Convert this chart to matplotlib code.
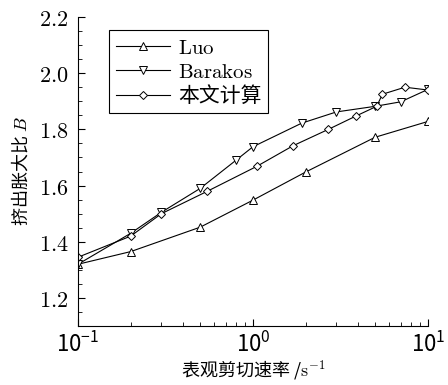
import matplotlib
matplotlib.use('Agg')
import matplotlib.pyplot as plt
from matplotlib.ticker import FuncFormatter, MultipleLocator, LogLocator

plt.rcParams['font.family'] = ['Noto Sans CJK SC', 'DejaVu Sans']
plt.rcParams['mathtext.fontset'] = 'cm'

# 数据
luo_x = [0.1, 0.2, 0.5, 1.0, 2.0, 5.0, 10.0]
luo_y = [1.32, 1.365, 1.452, 1.548, 1.648, 1.772, 1.828]

barakos_x = [0.1, 0.2, 0.3, 0.5, 0.8, 1.0, 1.9, 3.0, 5.0, 7.0, 10.0]
barakos_y = [1.32, 1.43, 1.505, 1.59, 1.69, 1.738, 1.822, 1.862, 1.882, 1.898, 1.942]

calc_x = [0.1, 0.2, 0.3, 0.55, 1.05, 1.7, 2.7, 3.9, 5.1, 5.5, 7.4, 10.0]
calc_y = [1.345, 1.42, 1.5, 1.58, 1.668, 1.742, 1.80, 1.848, 1.882, 1.925, 1.95, 1.94]

labels = [r'$\mathrm{Luo}$', r'$\mathrm{Barakos}$', '本文计算']

fig = plt.figure(figsize=(4.48, 3.85), dpi=100)
ax = fig.add_axes([0.174, 0.153, 0.781, 0.803])

style = dict(color='black', linewidth=0.8, markersize=5.5,
             markerfacecolor='white', markeredgecolor='black', markeredgewidth=0.7)
ax.plot(luo_x, luo_y, marker='^', label=labels[0], **style)
ax.plot(barakos_x, barakos_y, marker='v', label=labels[1], **style)
ax.plot(calc_x, calc_y, marker='D', label=labels[2], **dict(style, markersize=4.5))

ax.set_xscale('log')
ax.set_xlim(0.1, 10)
ax.set_ylim(1.1, 2.2)

ax.yaxis.set_major_locator(MultipleLocator(0.2))
ax.yaxis.set_minor_locator(MultipleLocator(0.05))
ax.yaxis.set_major_formatter(FuncFormatter(lambda v, p: r'$%.1f$' % v))
ax.xaxis.set_minor_locator(LogLocator(base=10, subs=range(2, 10)))

ax.spines['top'].set_visible(False)
ax.spines['right'].set_visible(False)
ax.tick_params(which='both', direction='in', labelsize=16)
ax.tick_params(axis='x', pad=4)
ax.tick_params(axis='y', pad=7)
ax.tick_params(which='major', length=5)
ax.tick_params(which='minor', length=3)

ax.set_xlabel('表观剪切速率 /$\\mathrm{s}^{-1}$', fontsize=13, labelpad=1)
ax.set_ylabel('挤出胀大比 $B$', fontsize=13, labelpad=6)

leg = ax.legend(loc='upper left', bbox_to_anchor=(0.06, 0.99), fontsize=15,
                frameon=True, fancybox=False, edgecolor='black', framealpha=1,
                handlelength=2.6, borderpad=0.3, labelspacing=0.1, handletextpad=0.4)
leg.get_frame().set_linewidth(0.8)

plt.savefig('out.png', dpi=100)
